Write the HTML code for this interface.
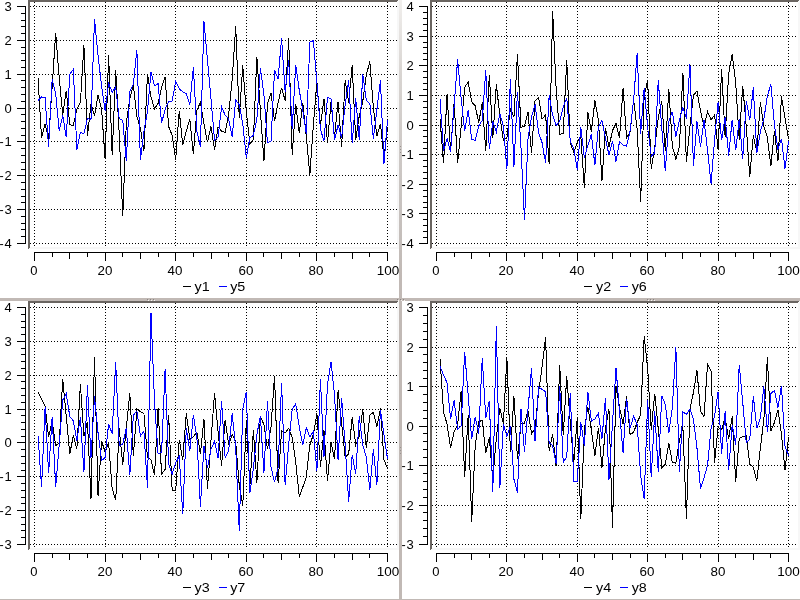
<!DOCTYPE html>
<html><head><meta charset="utf-8"><title>plots</title>
<style>
html,body{margin:0;padding:0;background:#fff;}
body{width:800px;height:600px;overflow:hidden;}
svg{display:block;}
svg{will-change:transform;}
text{font-family:"Liberation Sans",sans-serif;font-size:12.5px;fill:#000;}
</style></head><body>
<svg width="800" height="600" viewBox="0 0 800 600" shape-rendering="crispEdges" stroke-width="1">
<rect width="800" height="600" fill="#fff"/>
<defs><linearGradient id="vg" gradientUnits="userSpaceOnUse" x1="0" y1="0" x2="0" y2="298"><stop offset="0" stop-color="#f1efed"/><stop offset="0.25" stop-color="#d8d4d1"/><stop offset="0.5" stop-color="#cec9c6"/><stop offset="0.67" stop-color="#c8c3c0"/><stop offset="0.93" stop-color="#c1b9b5"/><stop offset="1" stop-color="#c1b9b5"/></linearGradient></defs>
<rect x="399" y="0" width="3" height="600" fill="#c1b9b5"/>
<rect x="399" y="0" width="3" height="298" fill="url(#vg)"/>
<rect x="0" y="298" width="800" height="3" fill="#c1b9b5"/>
<rect x="0" y="599" width="800" height="1" fill="#c1b9b5"/>
<rect x="148" y="300" width="1" height="1" fill="#f4f2f0"/><rect x="151" y="300" width="1" height="1" fill="#f4f2f0"/><rect x="154" y="300" width="1" height="1" fill="#f4f2f0"/><rect x="398" y="300" width="1" height="1" fill="#f4f2f0"/><rect x="401" y="300" width="1" height="1" fill="#f4f2f0"/><rect x="404" y="300" width="1" height="1" fill="#f4f2f0"/><rect x="648" y="300" width="1" height="1" fill="#f4f2f0"/><rect x="651" y="300" width="1" height="1" fill="#f4f2f0"/><rect x="654" y="300" width="1" height="1" fill="#f4f2f0"/>
<rect x="147" y="299" width="1" height="1" fill="#8a8582"/><rect x="150" y="299" width="1" height="1" fill="#8a8582"/><rect x="153" y="299" width="1" height="1" fill="#8a8582"/><rect x="397" y="299" width="1" height="1" fill="#8a8582"/><rect x="400" y="299" width="1" height="1" fill="#8a8582"/><rect x="403" y="299" width="1" height="1" fill="#8a8582"/><rect x="647" y="299" width="1" height="1" fill="#8a8582"/><rect x="650" y="299" width="1" height="1" fill="#8a8582"/><rect x="653" y="299" width="1" height="1" fill="#8a8582"/>
<rect x="400" y="146" width="1" height="1" fill="#9a9491"/><rect x="400" y="149" width="1" height="1" fill="#9a9491"/><rect x="400" y="152" width="1" height="1" fill="#9a9491"/><rect x="400" y="447" width="1" height="1" fill="#9a9491"/><rect x="400" y="450" width="1" height="1" fill="#9a9491"/><rect x="400" y="453" width="1" height="1" fill="#9a9491"/>
<rect x="28" y="247" width="371" height="2" fill="#f7f7f7"/><rect x="397" y="0" width="2" height="249" fill="#f7f7f7"/><rect x="28" y="0" width="370" height="1" fill="#6a6561"/><rect x="28" y="1" width="369" height="1" fill="#6a6561"/><rect x="28" y="0" width="1" height="249" fill="#6a6561"/><rect x="29" y="0" width="1" height="248" fill="#6a6561"/><path d="M30 6.5H397M30 40.5H397M30 74.5H397M30 108.5H397M30 141.5H397M30 175.5H397M30 209.5H397M30 243.5H397M34.5 2V247M105.5 2V247M175.5 2V247M246.5 2V247M316.5 2V247M387.5 2V247" stroke="#000" stroke-dasharray="1 2" fill="none"/><path d="M25.5 6V244M17 6.5H25M21 13.5H25M21 20.5H25M21 26.5H25M21 33.5H25M17 40.5H25M21 47.5H25M21 53.5H25M21 60.5H25M21 67.5H25M17 74.5H25M21 80.5H25M21 87.5H25M21 94.5H25M21 101.5H25M17 108.5H25M21 114.5H25M21 121.5H25M21 128.5H25M21 135.5H25M17 141.5H25M21 148.5H25M21 155.5H25M21 162.5H25M21 169.5H25M17 175.5H25M21 182.5H25M21 189.5H25M21 196.5H25M21 202.5H25M17 209.5H25M21 216.5H25M21 223.5H25M21 229.5H25M21 236.5H25M17 243.5H25M34 252.5H388M34.5 252V261M52.5 252V257M69.5 252V259M87.5 252V257M105.5 252V261M122.5 252V257M140.5 252V259M158.5 252V257M175.5 252V261M193.5 252V257M211.5 252V259M228.5 252V257M246.5 252V261M263.5 252V257M281.5 252V259M299.5 252V257M316.5 252V261M334.5 252V257M352.5 252V259M369.5 252V257M387.5 252V261" stroke="#000" fill="none"/>
<text x="11.8" y="10.9" text-anchor="end" textLength="7.23" lengthAdjust="spacingAndGlyphs">3</text>
<text x="11.8" y="44.9" text-anchor="end" textLength="7.23" lengthAdjust="spacingAndGlyphs">2</text>
<text x="11.8" y="78.9" text-anchor="end" textLength="7.23" lengthAdjust="spacingAndGlyphs">1</text>
<text x="11.8" y="112.9" text-anchor="end" textLength="7.23" lengthAdjust="spacingAndGlyphs">0</text>
<text x="11.8" y="145.9" text-anchor="end" textLength="7.23" lengthAdjust="spacingAndGlyphs">1</text>
<text x="3.7" y="145.9" text-anchor="end">-</text>
<text x="11.8" y="179.9" text-anchor="end" textLength="7.23" lengthAdjust="spacingAndGlyphs">2</text>
<text x="3.7" y="179.9" text-anchor="end">-</text>
<text x="11.8" y="213.9" text-anchor="end" textLength="7.23" lengthAdjust="spacingAndGlyphs">3</text>
<text x="3.7" y="213.9" text-anchor="end">-</text>
<text x="11.8" y="247.9" text-anchor="end" textLength="7.23" lengthAdjust="spacingAndGlyphs">4</text>
<text x="3.7" y="247.9" text-anchor="end">-</text>
<text x="34" y="275" text-anchor="middle" textLength="7.23" lengthAdjust="spacingAndGlyphs">0</text>
<text x="105" y="275" text-anchor="middle" textLength="14.86" lengthAdjust="spacingAndGlyphs">20</text>
<text x="175" y="275" text-anchor="middle" textLength="14.86" lengthAdjust="spacingAndGlyphs">40</text>
<text x="246" y="275" text-anchor="middle" textLength="14.86" lengthAdjust="spacingAndGlyphs">60</text>
<text x="316" y="275" text-anchor="middle" textLength="14.86" lengthAdjust="spacingAndGlyphs">80</text>
<text x="388" y="275" text-anchor="middle" textLength="22.49" lengthAdjust="spacingAndGlyphs">100</text>
<polyline points="38.03,78.28 41.56,137.87 45.09,123.65 48.62,138.54 52.15,86.74 55.68,33.25 59.21,77.6 62.74,114.84 66.27,90.8 69.8,124.66 73.33,125.68 76.86,109.09 80.39,102.65 83.92,45.44 87.45,135.83 90.98,104.01 94.51,115.86 98.04,95.21 101.57,109.09 105.1,158.86 108.63,55.25 112.16,155.47 115.69,70.49 119.22,133.8 122.75,216.41 126.28,123.31 129.81,98.93 133.34,84.71 136.87,116.54 140.4,128.39 143.93,151.24 147.46,73.88 150.99,96.9 154.52,108.75 158.05,103.33 161.58,87.76 165.11,76.92 168.64,126.52 172.17,135.5 175.7,159.53 179.23,110.78 182.76,145.31 186.29,131.09 189.82,118.91 193.35,154.12 196.88,110.1 200.41,102.65 203.94,123.65 207.47,142.27 211,126.52 214.53,149.72 218.06,127.03 221.59,131.09 225.12,132.45 228.65,114.84 232.18,79.63 235.71,26.14 239.24,118.23 242.77,65.41 246.3,111.46 249.83,143.62 253.36,139.9 256.89,56.95 260.42,111.46 263.95,160.89 267.48,104.01 271.01,92.84 274.54,121.28 278.07,102.65 281.6,87.76 285.13,100.62 288.66,38.33 292.19,155.13 295.72,104.01 299.25,133.13 302.78,102.65 306.31,136.85 309.84,175.11 313.37,125 316.9,81.66 320.43,125.68 323.96,98.93 327.49,142.94 331.02,101.98 334.55,137.02 338.08,101.64 341.61,146.67 345.14,80.31 348.67,102.65 352.2,65.24 355.73,139.9 359.26,115.86 362.79,101.3 366.32,74.89 369.85,61.52 373.38,108.07 376.91,136.17 380.44,123.65 383.97,158.01 387.5,126.52" stroke="#000" fill="none"/>
<polyline points="38.03,100.28 41.56,96.9 45.09,97.58 48.62,147.01 52.15,78.95 55.68,93.85 59.21,130.76 62.74,115.52 66.27,137.19 69.8,74.21 73.33,69.47 76.86,150.05 80.39,132.45 83.92,133.8 87.45,118.57 90.98,119.58 94.51,19.37 98.04,55.59 101.57,85.73 105.1,110.44 108.63,83.36 112.16,92.16 115.69,87.08 119.22,118.57 122.75,120.26 126.28,161.23 129.81,91.82 133.34,84.37 136.87,49.84 140.4,159.87 143.93,131.09 147.46,111.46 150.99,71.84 154.52,85.73 158.05,83.69 161.58,122.97 165.11,109.43 168.64,101.3 172.17,100.96 175.7,81.32 179.23,88.77 182.76,91.82 186.29,93.51 189.82,104.69 193.35,67.1 196.88,131.09 200.41,146.67 203.94,21.06 207.47,59.99 211,98.93 214.53,139.9 218.06,137.19 221.59,106.72 225.12,115.18 228.65,118.91 232.18,137.02 235.71,100.28 239.24,104.69 242.77,123.65 246.3,158.01 249.83,137.87 253.36,135.5 256.89,118.91 260.42,68.29 263.95,95.04 267.48,142.94 271.01,140.91 274.54,70.49 278.07,78.62 281.6,38.33 285.13,91.48 288.66,59.99 292.19,129.4 295.72,65.24 299.25,90.13 302.78,110.44 306.31,134.14 309.84,42.05 313.37,40.7 316.9,82.51 320.43,129.4 323.96,140.91 327.49,97.24 331.02,98.93 334.55,139.9 338.08,125 341.61,137.87 345.14,104.69 348.67,80.31 352.2,142.94 355.73,98.25 359.26,139.9 362.79,74.21 366.32,100.62 369.85,103.67 373.38,138.54 376.91,109.43 380.44,80.31 383.97,163.94 387.5,119.92" stroke="#00f" fill="none"/>
<path d="M183 286.5h8" stroke="#000"/>
<text x="194.6" y="291" text-anchor="start" textLength="15.13" lengthAdjust="spacingAndGlyphs">y1</text>
<path d="M219 286.5h8" stroke="#00f"/>
<text x="230.2" y="291" text-anchor="start" textLength="15.13" lengthAdjust="spacingAndGlyphs">y5</text>
<rect x="430" y="247" width="370" height="2" fill="#f7f7f7"/><rect x="798" y="0" width="2" height="249" fill="#f7f7f7"/><rect x="430" y="0" width="369" height="1" fill="#6a6561"/><rect x="430" y="1" width="368" height="1" fill="#6a6561"/><rect x="430" y="0" width="1" height="249" fill="#6a6561"/><rect x="431" y="0" width="1" height="248" fill="#6a6561"/><path d="M432 6.5H798M432 36.5H798M432 65.5H798M432 95.5H798M432 125.5H798M432 154.5H798M432 184.5H798M432 213.5H798M432 243.5H798M436.5 2V247M506.5 2V247M577.5 2V247M647.5 2V247M718.5 2V247M788.5 2V247" stroke="#000" stroke-dasharray="1 2" fill="none"/><path d="M427.5 6V244M419 6.5H427M423 12.5H427M423 18.5H427M423 24.5H427M423 30.5H427M419 36.5H427M423 42.5H427M423 47.5H427M423 53.5H427M423 59.5H427M419 65.5H427M423 71.5H427M423 77.5H427M423 83.5H427M423 89.5H427M419 95.5H427M423 101.5H427M423 107.5H427M423 113.5H427M423 119.5H427M419 125.5H427M423 130.5H427M423 136.5H427M423 142.5H427M423 148.5H427M419 154.5H427M423 160.5H427M423 166.5H427M423 172.5H427M423 178.5H427M419 184.5H427M423 190.5H427M423 196.5H427M423 202.5H427M423 207.5H427M419 213.5H427M423 219.5H427M423 225.5H427M423 231.5H427M423 237.5H427M419 243.5H427M436 252.5H789M436.5 252V261M454.5 252V257M471.5 252V259M489.5 252V257M506.5 252V261M524.5 252V257M542.5 252V259M559.5 252V257M577.5 252V261M594.5 252V257M612.5 252V259M630.5 252V257M647.5 252V261M665.5 252V257M682.5 252V259M700.5 252V257M718.5 252V261M735.5 252V257M753.5 252V259M770.5 252V257M788.5 252V261" stroke="#000" fill="none"/>
<text x="413.8" y="10.9" text-anchor="end" textLength="7.23" lengthAdjust="spacingAndGlyphs">4</text>
<text x="413.8" y="40.9" text-anchor="end" textLength="7.23" lengthAdjust="spacingAndGlyphs">3</text>
<text x="413.8" y="69.9" text-anchor="end" textLength="7.23" lengthAdjust="spacingAndGlyphs">2</text>
<text x="413.8" y="99.9" text-anchor="end" textLength="7.23" lengthAdjust="spacingAndGlyphs">1</text>
<text x="413.8" y="129.9" text-anchor="end" textLength="7.23" lengthAdjust="spacingAndGlyphs">0</text>
<text x="413.8" y="158.9" text-anchor="end" textLength="7.23" lengthAdjust="spacingAndGlyphs">1</text>
<text x="405.7" y="158.9" text-anchor="end">-</text>
<text x="413.8" y="188.9" text-anchor="end" textLength="7.23" lengthAdjust="spacingAndGlyphs">2</text>
<text x="405.7" y="188.9" text-anchor="end">-</text>
<text x="413.8" y="217.9" text-anchor="end" textLength="7.23" lengthAdjust="spacingAndGlyphs">3</text>
<text x="405.7" y="217.9" text-anchor="end">-</text>
<text x="413.8" y="247.9" text-anchor="end" textLength="7.23" lengthAdjust="spacingAndGlyphs">4</text>
<text x="405.7" y="247.9" text-anchor="end">-</text>
<text x="436" y="275" text-anchor="middle" textLength="7.23" lengthAdjust="spacingAndGlyphs">0</text>
<text x="506" y="275" text-anchor="middle" textLength="14.86" lengthAdjust="spacingAndGlyphs">20</text>
<text x="577" y="275" text-anchor="middle" textLength="14.86" lengthAdjust="spacingAndGlyphs">40</text>
<text x="647" y="275" text-anchor="middle" textLength="14.86" lengthAdjust="spacingAndGlyphs">60</text>
<text x="718" y="275" text-anchor="middle" textLength="14.86" lengthAdjust="spacingAndGlyphs">80</text>
<text x="788.5" y="275" text-anchor="middle" textLength="22.49" lengthAdjust="spacingAndGlyphs">100</text>
<polyline points="440.02,119.07 443.54,163.22 447.06,93.89 450.58,151.66 454.1,102.48 457.62,163.22 461.14,126.78 464.66,87.38 468.18,82.04 471.7,101.89 475.22,105.74 478.74,122.93 482.26,102.48 485.78,150.77 489.3,74.64 492.82,137.74 496.34,84.41 499.86,116.11 503.38,140.41 506.9,137.74 510.42,108.11 513.94,117 517.46,54.2 520.98,127.37 524.5,126.19 528.02,112.26 531.54,153.44 535.06,100.71 538.58,97.15 542.1,119.07 545.62,114.93 549.14,164.11 552.66,10.94 556.18,89.45 559.7,134.18 563.22,133.59 566.74,60.42 570.26,143.37 573.78,152.25 577.3,142.48 580.82,136.55 584.34,187.51 587.86,112.26 591.38,132.11 594.9,100.56 598.42,120.26 601.94,180.69 605.46,127.67 608.98,146.92 612.5,130.63 616.02,123.52 619.54,138.33 623.06,87.97 626.58,137.74 630.1,132.11 633.62,99.23 637.14,129.44 640.66,201.73 644.18,95.38 647.7,80.56 651.22,169.14 654.74,147.22 658.26,117.59 661.78,101.3 665.3,151.07 668.82,88.56 672.34,146.03 675.86,159.37 679.38,146.92 682.9,72.56 686.42,162.03 689.94,126.78 693.46,95.38 696.98,90.93 700.5,111.08 704.02,126.78 707.54,111.67 711.06,119.67 714.58,114.93 718.1,149.59 721.62,69.31 725.14,137.15 728.66,73.9 732.18,54.2 735.7,83.08 739.22,139.81 742.74,85.6 746.26,126.78 749.78,176.55 753.3,135.37 756.82,152.25 760.34,101.89 763.86,126.78 767.38,137.44 770.9,165.88 774.42,130.63 777.94,161.44 781.46,96.56 784.98,117.59 788.5,138.92" stroke="#000" fill="none"/>
<polyline points="440.02,98.93 443.54,151.07 447.06,138.63 450.58,151.66 454.1,106.34 457.62,59.53 461.14,98.34 464.66,130.93 468.18,109.89 471.7,139.52 475.22,140.41 478.74,125.89 482.26,120.26 485.78,70.19 489.3,149.29 492.82,121.44 496.34,131.81 499.86,113.74 503.38,125.89 506.9,169.44 510.42,78.78 513.94,166.48 517.46,92.12 520.98,147.51 524.5,219.8 528.02,138.33 531.54,117 535.06,104.56 538.58,132.41 542.1,142.77 545.62,162.77 549.14,95.08 552.66,115.22 556.18,125.59 559.7,120.85 563.22,107.22 566.74,97.75 570.26,141.15 573.78,149 577.3,170.03 580.82,127.37 584.34,157.59 587.86,145.14 591.38,134.48 594.9,165.29 598.42,126.78 601.94,120.26 605.46,138.63 608.98,154.92 612.5,141.15 616.02,161.44 619.54,141.59 623.06,145.14 626.58,146.33 630.1,130.93 633.62,100.12 637.14,53.31 640.66,133.89 644.18,87.67 647.7,127.96 651.22,156.11 654.74,152.85 658.26,80.27 661.78,127.96 665.3,171.22 668.82,121.44 672.34,111.67 675.86,136.55 679.38,120.26 682.9,107.22 686.42,118.48 689.94,63.97 693.46,166.18 696.98,121.44 700.5,146.92 704.02,120.26 707.54,150.18 711.06,183.66 714.58,139.81 718.1,101.89 721.62,140.41 725.14,117 728.66,155.51 732.18,119.67 735.7,150.33 739.22,119.37 742.74,158.77 746.26,100.71 749.78,120.26 753.3,87.52 756.82,152.85 760.34,131.81 763.86,119.07 767.38,95.97 770.9,84.27 774.42,125 777.94,149.59 781.46,138.63 784.98,168.7 788.5,141.15" stroke="#00f" fill="none"/>
<path d="M583.5 286.5h8" stroke="#000"/>
<text x="596.1" y="291" text-anchor="start" textLength="15.13" lengthAdjust="spacingAndGlyphs">y2</text>
<path d="M619.5 286.5h8" stroke="#00f"/>
<text x="631.7" y="291" text-anchor="start" textLength="15.13" lengthAdjust="spacingAndGlyphs">y6</text>
<rect x="28" y="548" width="371" height="2" fill="#f7f7f7"/><rect x="397" y="301" width="2" height="249" fill="#f7f7f7"/><rect x="28" y="301" width="370" height="1" fill="#6a6561"/><rect x="28" y="302" width="369" height="1" fill="#6a6561"/><rect x="28" y="301" width="1" height="249" fill="#6a6561"/><rect x="29" y="301" width="1" height="248" fill="#6a6561"/><path d="M30 307.5H397M30 341.5H397M30 375.5H397M30 409.5H397M30 442.5H397M30 476.5H397M30 510.5H397M30 544.5H397M34.5 303V548M105.5 303V548M175.5 303V548M246.5 303V548M316.5 303V548M387.5 303V548" stroke="#000" stroke-dasharray="1 2" fill="none"/><path d="M25.5 307V545M17 307.5H25M21 314.5H25M21 321.5H25M21 327.5H25M21 334.5H25M17 341.5H25M21 348.5H25M21 354.5H25M21 361.5H25M21 368.5H25M17 375.5H25M21 381.5H25M21 388.5H25M21 395.5H25M21 402.5H25M17 409.5H25M21 415.5H25M21 422.5H25M21 429.5H25M21 436.5H25M17 442.5H25M21 449.5H25M21 456.5H25M21 463.5H25M21 470.5H25M17 476.5H25M21 483.5H25M21 490.5H25M21 497.5H25M21 503.5H25M17 510.5H25M21 517.5H25M21 524.5H25M21 530.5H25M21 537.5H25M17 544.5H25M34 553.5H388M34.5 553V562M52.5 553V558M69.5 553V560M87.5 553V558M105.5 553V562M122.5 553V558M140.5 553V560M158.5 553V558M175.5 553V562M193.5 553V558M211.5 553V560M228.5 553V558M246.5 553V562M263.5 553V558M281.5 553V560M299.5 553V558M316.5 553V562M334.5 553V558M352.5 553V560M369.5 553V558M387.5 553V562" stroke="#000" fill="none"/>
<text x="11.8" y="311.9" text-anchor="end" textLength="7.23" lengthAdjust="spacingAndGlyphs">4</text>
<text x="11.8" y="345.9" text-anchor="end" textLength="7.23" lengthAdjust="spacingAndGlyphs">3</text>
<text x="11.8" y="379.9" text-anchor="end" textLength="7.23" lengthAdjust="spacingAndGlyphs">2</text>
<text x="11.8" y="413.9" text-anchor="end" textLength="7.23" lengthAdjust="spacingAndGlyphs">1</text>
<text x="11.8" y="446.9" text-anchor="end" textLength="7.23" lengthAdjust="spacingAndGlyphs">0</text>
<text x="11.8" y="480.9" text-anchor="end" textLength="7.23" lengthAdjust="spacingAndGlyphs">1</text>
<text x="3.7" y="480.9" text-anchor="end">-</text>
<text x="11.8" y="514.9" text-anchor="end" textLength="7.23" lengthAdjust="spacingAndGlyphs">2</text>
<text x="3.7" y="514.9" text-anchor="end">-</text>
<text x="11.8" y="548.9" text-anchor="end" textLength="7.23" lengthAdjust="spacingAndGlyphs">3</text>
<text x="3.7" y="548.9" text-anchor="end">-</text>
<text x="34" y="576" text-anchor="middle" textLength="7.23" lengthAdjust="spacingAndGlyphs">0</text>
<text x="105" y="576" text-anchor="middle" textLength="14.86" lengthAdjust="spacingAndGlyphs">20</text>
<text x="175" y="576" text-anchor="middle" textLength="14.86" lengthAdjust="spacingAndGlyphs">40</text>
<text x="246" y="576" text-anchor="middle" textLength="14.86" lengthAdjust="spacingAndGlyphs">60</text>
<text x="316" y="576" text-anchor="middle" textLength="14.86" lengthAdjust="spacingAndGlyphs">80</text>
<text x="388" y="576" text-anchor="middle" textLength="22.49" lengthAdjust="spacingAndGlyphs">100</text>
<polyline points="38.03,391.8 41.56,399.25 45.09,406.02 48.62,436.83 52.15,420.92 55.68,445.64 59.21,442.93 62.74,379.28 66.27,416.52 69.8,454.1 73.33,435.14 76.86,449.36 80.39,384.36 83.92,436.16 87.45,421.6 90.98,499.47 94.51,357.27 98.04,495.75 101.57,441.24 105.1,451.73 108.63,442.93 112.16,488.64 115.69,500.15 119.22,428.37 122.75,464.94 126.28,428.37 129.81,393.16 133.34,456.13 136.87,409.07 140.4,411.78 143.93,413.47 147.46,457.15 150.99,459.86 154.52,475.43 158.05,408.39 161.58,474.08 165.11,469.34 168.64,415 172.17,490.5 175.7,490.5 179.23,439.88 182.76,459.86 186.29,413.47 189.82,438.87 193.35,436.83 196.88,432.09 200.41,454.1 203.94,418.89 207.47,488.97 211,440.56 214.53,393.16 218.06,431.42 221.59,465.95 225.12,419.57 228.65,444.96 232.18,434.46 235.71,441.91 239.24,485.25 242.77,505.56 246.3,420.58 249.83,486.94 253.36,430.06 256.89,482.54 260.42,416.86 263.95,424.65 267.48,449.02 271.01,427.02 274.54,375.55 278.07,482.54 281.6,430.74 285.13,433.11 288.66,428.37 292.19,437.51 295.72,461.89 299.25,496.42 302.78,487.28 306.31,476.79 309.84,444.96 313.37,434.46 316.9,413.47 320.43,466.63 323.96,430.4 327.49,480.51 331.02,441.91 334.55,459.01 338.08,390.28 341.61,422.61 345.14,457.15 348.67,454.1 352.2,417.2 355.73,444.96 359.26,436.16 362.79,409.07 366.32,448.01 369.85,415 373.38,412.46 376.91,427.02 380.44,408.39 383.97,459.86 387.5,468.32" stroke="#000" fill="none"/>
<polyline points="38.03,436.16 41.56,486.6 45.09,407.38 48.62,473.4 52.15,417.2 55.68,486.6 59.21,444.96 62.74,399.93 66.27,393.84 69.8,416.52 73.33,420.92 76.86,440.56 80.39,417.2 83.92,472.38 87.45,385.37 90.98,457.49 94.51,396.54 98.04,432.77 101.57,460.53 105.1,457.49 108.63,423.63 112.16,433.79 115.69,362.01 119.22,445.64 122.75,444.28 126.28,428.37 129.81,475.43 133.34,415.17 136.87,411.1 140.4,436.16 143.93,431.42 147.46,487.62 150.99,312.58 154.52,402.3 158.05,453.42 161.58,452.75 165.11,369.12 168.64,463.92 172.17,474.08 175.7,462.9 179.23,456.13 182.76,514.37 186.29,428.37 189.82,451.05 193.35,415 196.88,437.51 200.41,506.58 203.94,445.98 207.47,467.98 211,449.36 214.53,441.24 218.06,458.16 221.59,400.61 225.12,457.49 228.65,451.05 232.18,413.47 235.71,448.01 239.24,530.62 242.77,409.07 246.3,392.14 249.83,493.38 253.36,468.32 256.89,434.46 260.42,415.84 263.95,472.72 267.48,401.28 271.01,466.97 274.54,482.2 278.07,467.98 281.6,383 285.13,485.25 288.66,444.96 292.19,409.07 295.72,403.99 299.25,427.02 302.78,444.96 306.31,427.69 309.84,436.83 313.37,431.42 316.9,471.03 320.43,379.28 323.96,456.81 327.49,384.52 331.02,362.01 334.55,395.02 338.08,459.86 341.61,397.9 345.14,444.96 348.67,501.84 352.2,454.78 355.73,474.08 359.26,416.52 362.79,444.96 366.32,457.15 369.85,489.65 373.38,449.36 376.91,484.57 380.44,410.43 383.97,434.46 387.5,458.84" stroke="#00f" fill="none"/>
<path d="M183 587.5h8" stroke="#000"/>
<text x="194.6" y="592" text-anchor="start" textLength="15.13" lengthAdjust="spacingAndGlyphs">y3</text>
<path d="M219 587.5h8" stroke="#00f"/>
<text x="230.2" y="592" text-anchor="start" textLength="15.13" lengthAdjust="spacingAndGlyphs">y7</text>
<rect x="430" y="548" width="370" height="2" fill="#f7f7f7"/><rect x="798" y="301" width="2" height="249" fill="#f7f7f7"/><rect x="430" y="301" width="369" height="1" fill="#6a6561"/><rect x="430" y="302" width="368" height="1" fill="#6a6561"/><rect x="430" y="301" width="1" height="249" fill="#6a6561"/><rect x="431" y="301" width="1" height="248" fill="#6a6561"/><path d="M432 307.5H798M432 347.5H798M432 386.5H798M432 426.5H798M432 465.5H798M432 505.5H798M432 544.5H798M436.5 303V548M506.5 303V548M577.5 303V548M647.5 303V548M718.5 303V548M788.5 303V548" stroke="#000" stroke-dasharray="1 2" fill="none"/><path d="M427.5 307V545M419 307.5H427M423 315.5H427M423 323.5H427M423 331.5H427M423 339.5H427M419 347.5H427M423 354.5H427M423 362.5H427M423 370.5H427M423 378.5H427M419 386.5H427M423 394.5H427M423 402.5H427M423 410.5H427M423 418.5H427M419 426.5H427M423 433.5H427M423 441.5H427M423 449.5H427M423 457.5H427M419 465.5H427M423 473.5H427M423 481.5H427M423 489.5H427M423 497.5H427M419 505.5H427M423 512.5H427M423 520.5H427M423 528.5H427M423 536.5H427M419 544.5H427M436 553.5H789M436.5 553V562M454.5 553V558M471.5 553V560M489.5 553V558M506.5 553V562M524.5 553V558M542.5 553V560M559.5 553V558M577.5 553V562M594.5 553V558M612.5 553V560M630.5 553V558M647.5 553V562M665.5 553V558M682.5 553V560M700.5 553V558M718.5 553V562M735.5 553V558M753.5 553V560M770.5 553V558M788.5 553V562" stroke="#000" fill="none"/>
<text x="413.8" y="311.9" text-anchor="end" textLength="7.23" lengthAdjust="spacingAndGlyphs">3</text>
<text x="413.8" y="351.9" text-anchor="end" textLength="7.23" lengthAdjust="spacingAndGlyphs">2</text>
<text x="413.8" y="390.9" text-anchor="end" textLength="7.23" lengthAdjust="spacingAndGlyphs">1</text>
<text x="413.8" y="430.9" text-anchor="end" textLength="7.23" lengthAdjust="spacingAndGlyphs">0</text>
<text x="413.8" y="469.9" text-anchor="end" textLength="7.23" lengthAdjust="spacingAndGlyphs">1</text>
<text x="405.7" y="469.9" text-anchor="end">-</text>
<text x="413.8" y="509.9" text-anchor="end" textLength="7.23" lengthAdjust="spacingAndGlyphs">2</text>
<text x="405.7" y="509.9" text-anchor="end">-</text>
<text x="413.8" y="548.9" text-anchor="end" textLength="7.23" lengthAdjust="spacingAndGlyphs">3</text>
<text x="405.7" y="548.9" text-anchor="end">-</text>
<text x="436" y="576" text-anchor="middle" textLength="7.23" lengthAdjust="spacingAndGlyphs">0</text>
<text x="506" y="576" text-anchor="middle" textLength="14.86" lengthAdjust="spacingAndGlyphs">20</text>
<text x="577" y="576" text-anchor="middle" textLength="14.86" lengthAdjust="spacingAndGlyphs">40</text>
<text x="647" y="576" text-anchor="middle" textLength="14.86" lengthAdjust="spacingAndGlyphs">60</text>
<text x="718" y="576" text-anchor="middle" textLength="14.86" lengthAdjust="spacingAndGlyphs">80</text>
<text x="788.5" y="576" text-anchor="middle" textLength="22.49" lengthAdjust="spacingAndGlyphs">100</text>
<polyline points="440.02,358.85 443.54,412.18 447.06,424.03 450.58,448.12 454.1,431.53 457.62,424.81 461.14,391.24 464.66,476.56 468.18,414.94 471.7,521.59 475.22,444.96 478.74,421.66 482.26,420.27 485.78,452.86 489.3,437.46 492.82,479.32 496.34,437.85 499.86,408.22 503.38,424.03 506.9,357.67 510.42,452.07 513.94,396.38 517.46,459.18 520.98,424.03 524.5,423.24 528.02,410.59 531.54,433.9 535.06,428.37 538.58,392.43 542.1,366.75 545.62,337.12 549.14,451.28 552.66,434.49 556.18,465.89 559.7,364.97 563.22,435.08 566.74,376.23 570.26,422.44 573.78,463.13 577.3,417.31 580.82,518.82 584.34,429.95 587.86,406.64 591.38,429.95 594.9,455.62 598.42,427.58 601.94,467.87 605.46,428.37 608.98,409.01 612.5,527.51 616.02,386.5 619.54,407.44 623.06,424.03 626.58,396.38 630.1,434.49 633.62,432.32 637.14,422.44 640.66,414.94 644.18,336.33 647.7,368.73 651.22,429.95 654.74,393.61 658.26,428.37 661.78,467.87 665.3,464.31 668.82,443.38 672.34,462.34 675.86,463.13 679.38,440.62 682.9,427.19 686.42,518.82 689.94,409.01 693.46,392.43 696.98,370.31 700.5,411.38 704.02,416.52 707.54,364.38 711.06,371.1 714.58,462.74 718.1,427.19 721.62,429.95 725.14,417.31 728.66,439.03 732.18,416.52 735.7,482.09 739.22,438.25 742.74,436.66 746.26,435.88 749.78,464.31 753.3,467.08 756.82,480.9 760.34,448.12 763.86,419.68 767.38,357.27 770.9,430.74 774.42,422.44 777.94,409.81 781.46,434.49 784.98,470.24 788.5,437.46" stroke="#000" fill="none"/>
<polyline points="440.02,366.36 443.54,375.05 447.06,382.94 450.58,418.89 454.1,400.32 457.62,429.16 461.14,426 464.66,351.74 468.18,395.19 471.7,439.03 475.22,416.92 478.74,433.5 482.26,357.67 485.78,418.1 489.3,401.12 492.82,491.97 496.34,326.06 499.86,487.62 503.38,424.03 506.9,436.27 510.42,426 513.94,479.32 517.46,492.75 520.98,409.01 524.5,451.67 528.02,409.01 531.54,367.94 535.06,441.4 538.58,386.5 542.1,389.66 545.62,391.63 549.14,442.59 552.66,445.75 556.18,463.92 559.7,385.71 563.22,462.34 566.74,456.81 570.26,393.41 573.78,481.5 577.3,481.5 580.82,422.44 584.34,445.75 587.86,391.63 591.38,421.26 594.9,418.89 598.42,413.36 601.94,439.03 605.46,397.95 608.98,479.72 612.5,423.24 616.02,367.94 619.54,412.57 623.06,452.86 626.58,398.75 630.1,428.37 633.62,416.12 637.14,424.81 640.66,475.38 644.18,499.07 647.7,399.93 651.22,477.35 654.74,410.99 658.26,472.22 661.78,395.58 665.3,404.67 668.82,433.11 672.34,407.44 675.86,347.39 679.38,472.22 682.9,411.78 686.42,414.55 689.94,409.01 693.46,419.68 696.98,448.12 700.5,488.41 704.02,477.75 707.54,465.5 711.06,428.37 714.58,416.12 718.1,391.63 721.62,453.65 725.14,411.38 728.66,469.85 732.18,424.81 735.7,444.76 739.22,364.58 742.74,402.3 746.26,442.59 749.78,439.03 753.3,395.98 756.82,428.37 760.34,418.1 763.86,386.5 767.38,431.93 770.9,393.41 774.42,390.45 777.94,407.44 781.46,385.71 784.98,445.75 788.5,455.62" stroke="#00f" fill="none"/>
<path d="M583.5 587.5h8" stroke="#000"/>
<text x="596.1" y="592" text-anchor="start" textLength="15.13" lengthAdjust="spacingAndGlyphs">y4</text>
<path d="M619.5 587.5h8" stroke="#00f"/>
<text x="631.7" y="592" text-anchor="start" textLength="15.13" lengthAdjust="spacingAndGlyphs">y8</text>
</svg>
</body></html>
